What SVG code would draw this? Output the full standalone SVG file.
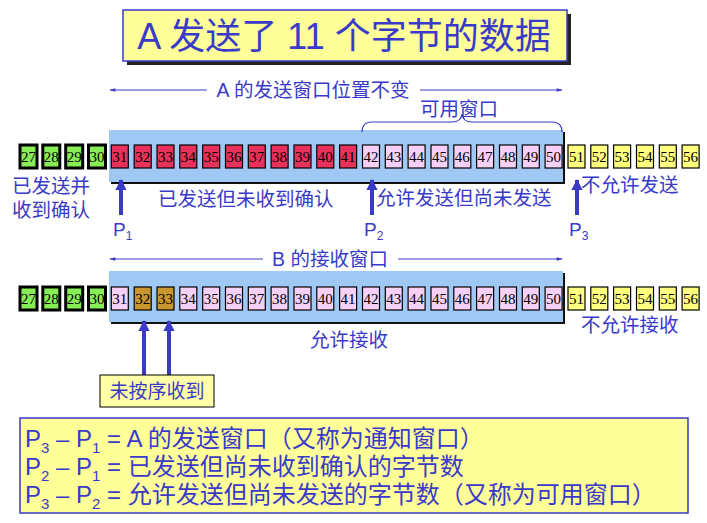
<svg xmlns="http://www.w3.org/2000/svg" width="707" height="523" viewBox="0 0 707 523">
<style>
.t{font-family:"Liberation Sans","Noto Sans CJK SC",sans-serif;fill:#3a3ac8}
.n{font-family:"Liberation Serif",serif;font-size:15px;fill:#000;text-anchor:middle}
.c rect{stroke:#000;stroke-width:1.2}
.g rect{fill:#88ee55;stroke-width:3}
.r rect{fill:#e8325c}
.p rect{fill:#f7d0f7}
.y rect{fill:#ffff80}
.b rect{fill:#c8962a}
.ln{stroke:#3a3ac8;stroke-width:1.2;fill:none}
.ar{stroke:#3a3ac8;stroke-width:4;fill:none}
</style>
<defs>
<marker id="sa" viewBox="0 0 10 10" refX="9" refY="5" markerWidth="7" markerHeight="5" orient="auto-start-reverse"><path d="M0,2 L10,5 L0,8 z" fill="#3a3ac8"/></marker>
<marker id="ba" viewBox="0 0 10 10" refX="9" refY="5" markerWidth="3.5" markerHeight="2.8" orient="auto"><path d="M0,0 L10,5 L0,10 z" fill="#3a3ac8"/></marker>
</defs>
<rect width="707" height="523" fill="#fff"/>
<g id="title">
<rect x="127" y="14" width="444" height="51" fill="#222"/>
<rect x="123" y="10" width="444" height="51" fill="#ffff99" stroke="#3a3ac8" stroke-width="1.5"/>
<text class="t" x="344" y="49" font-size="36" text-anchor="middle">A 发送了 11 个字节的数据</text>
</g>
<g id="windowA">
<rect x="111" y="132" width="454" height="52" fill="#111"/>
<rect x="109" y="130" width="454" height="52" fill="#a0c8f4"/>
</g>
<g id="windowB">
<rect x="111" y="273" width="454" height="51" fill="#111"/>
<rect x="109" y="271" width="454" height="51" fill="#a0c8f4"/>
</g>
<g id="connectors">
<line class="ln" x1="110" y1="90" x2="207" y2="90" marker-start="url(#sa)"/>
<line class="ln" x1="420" y1="90" x2="562" y2="90" marker-end="url(#sa)"/>
<line class="ln" x1="110" y1="259" x2="263" y2="259" marker-start="url(#sa)"/>
<line class="ln" x1="398" y1="259" x2="562" y2="259" marker-end="url(#sa)"/>
<path class="ln" d="M362,132 Q362,122 372,122 L452,122 Q461,122 462,114 Q463,122 472,122 L552,122 Q562,122 562,132"/>
<line class="ar" x1="121" y1="215" x2="121" y2="180" marker-end="url(#ba)"/>
<line class="ar" x1="372" y1="215" x2="372" y2="180" marker-end="url(#ba)"/>
<line class="ar" x1="577" y1="215" x2="577" y2="180" marker-end="url(#ba)"/>
<line class="ar" x1="144" y1="375" x2="144" y2="321" marker-end="url(#ba)"/>
<line class="ar" x1="169" y1="375" x2="169" y2="321" marker-end="url(#ba)"/>
</g>
<g id="rowA" class="c">
<g class="g" transform="translate(20,145)"><rect width="17" height="23"/><text class="n" x="8.5" y="17">27</text></g>
<g class="g" transform="translate(42.8,145)"><rect width="17" height="23"/><text class="n" x="8.5" y="17">28</text></g>
<g class="g" transform="translate(65.7,145)"><rect width="17" height="23"/><text class="n" x="8.5" y="17">29</text></g>
<g class="g" transform="translate(88.5,145)"><rect width="17" height="23"/><text class="n" x="8.5" y="17">30</text></g>
<g class="r" transform="translate(111.3,145)"><rect width="17" height="23"/><text class="n" x="8.5" y="17">31</text></g>
<g class="r" transform="translate(134.2,145)"><rect width="17" height="23"/><text class="n" x="8.5" y="17">32</text></g>
<g class="r" transform="translate(157,145)"><rect width="17" height="23"/><text class="n" x="8.5" y="17">33</text></g>
<g class="r" transform="translate(179.8,145)"><rect width="17" height="23"/><text class="n" x="8.5" y="17">34</text></g>
<g class="r" transform="translate(202.7,145)"><rect width="17" height="23"/><text class="n" x="8.5" y="17">35</text></g>
<g class="r" transform="translate(225.5,145)"><rect width="17" height="23"/><text class="n" x="8.5" y="17">36</text></g>
<g class="r" transform="translate(248.3,145)"><rect width="17" height="23"/><text class="n" x="8.5" y="17">37</text></g>
<g class="r" transform="translate(271.1,145)"><rect width="17" height="23"/><text class="n" x="8.5" y="17">38</text></g>
<g class="r" transform="translate(294,145)"><rect width="17" height="23"/><text class="n" x="8.5" y="17">39</text></g>
<g class="r" transform="translate(316.8,145)"><rect width="17" height="23"/><text class="n" x="8.5" y="17">40</text></g>
<g class="r" transform="translate(339.6,145)"><rect width="17" height="23"/><text class="n" x="8.5" y="17">41</text></g>
<g class="p" transform="translate(362.5,145)"><rect width="17" height="23"/><text class="n" x="8.5" y="17">42</text></g>
<g class="p" transform="translate(385.3,145)"><rect width="17" height="23"/><text class="n" x="8.5" y="17">43</text></g>
<g class="p" transform="translate(408.1,145)"><rect width="17" height="23"/><text class="n" x="8.5" y="17">44</text></g>
<g class="p" transform="translate(431,145)"><rect width="17" height="23"/><text class="n" x="8.5" y="17">45</text></g>
<g class="p" transform="translate(453.8,145)"><rect width="17" height="23"/><text class="n" x="8.5" y="17">46</text></g>
<g class="p" transform="translate(476.6,145)"><rect width="17" height="23"/><text class="n" x="8.5" y="17">47</text></g>
<g class="p" transform="translate(499.5,145)"><rect width="17" height="23"/><text class="n" x="8.5" y="17">48</text></g>
<g class="p" transform="translate(522.3,145)"><rect width="17" height="23"/><text class="n" x="8.5" y="17">49</text></g>
<g class="p" transform="translate(545.1,145)"><rect width="17" height="23"/><text class="n" x="8.5" y="17">50</text></g>
<g class="y" transform="translate(568,145)"><rect width="17" height="23"/><text class="n" x="8.5" y="17">51</text></g>
<g class="y" transform="translate(590.8,145)"><rect width="17" height="23"/><text class="n" x="8.5" y="17">52</text></g>
<g class="y" transform="translate(613.6,145)"><rect width="17" height="23"/><text class="n" x="8.5" y="17">53</text></g>
<g class="y" transform="translate(636.5,145)"><rect width="17" height="23"/><text class="n" x="8.5" y="17">54</text></g>
<g class="y" transform="translate(659.3,145)"><rect width="17" height="23"/><text class="n" x="8.5" y="17">55</text></g>
<g class="y" transform="translate(682.1,145)"><rect width="17" height="23"/><text class="n" x="8.5" y="17">56</text></g>
</g>
<g id="rowB" class="c">
<g class="g" transform="translate(20,287)"><rect width="17" height="23"/><text class="n" x="8.5" y="17">27</text></g>
<g class="g" transform="translate(42.8,287)"><rect width="17" height="23"/><text class="n" x="8.5" y="17">28</text></g>
<g class="g" transform="translate(65.7,287)"><rect width="17" height="23"/><text class="n" x="8.5" y="17">29</text></g>
<g class="g" transform="translate(88.5,287)"><rect width="17" height="23"/><text class="n" x="8.5" y="17">30</text></g>
<g class="p" transform="translate(111.3,287)"><rect width="17" height="23"/><text class="n" x="8.5" y="17">31</text></g>
<g class="b" transform="translate(134.2,287)"><rect width="17" height="23"/><text class="n" x="8.5" y="17">32</text></g>
<g class="b" transform="translate(157,287)"><rect width="17" height="23"/><text class="n" x="8.5" y="17">33</text></g>
<g class="p" transform="translate(179.8,287)"><rect width="17" height="23"/><text class="n" x="8.5" y="17">34</text></g>
<g class="p" transform="translate(202.7,287)"><rect width="17" height="23"/><text class="n" x="8.5" y="17">35</text></g>
<g class="p" transform="translate(225.5,287)"><rect width="17" height="23"/><text class="n" x="8.5" y="17">36</text></g>
<g class="p" transform="translate(248.3,287)"><rect width="17" height="23"/><text class="n" x="8.5" y="17">37</text></g>
<g class="p" transform="translate(271.1,287)"><rect width="17" height="23"/><text class="n" x="8.5" y="17">38</text></g>
<g class="p" transform="translate(294,287)"><rect width="17" height="23"/><text class="n" x="8.5" y="17">39</text></g>
<g class="p" transform="translate(316.8,287)"><rect width="17" height="23"/><text class="n" x="8.5" y="17">40</text></g>
<g class="p" transform="translate(339.6,287)"><rect width="17" height="23"/><text class="n" x="8.5" y="17">41</text></g>
<g class="p" transform="translate(362.5,287)"><rect width="17" height="23"/><text class="n" x="8.5" y="17">42</text></g>
<g class="p" transform="translate(385.3,287)"><rect width="17" height="23"/><text class="n" x="8.5" y="17">43</text></g>
<g class="p" transform="translate(408.1,287)"><rect width="17" height="23"/><text class="n" x="8.5" y="17">44</text></g>
<g class="p" transform="translate(431,287)"><rect width="17" height="23"/><text class="n" x="8.5" y="17">45</text></g>
<g class="p" transform="translate(453.8,287)"><rect width="17" height="23"/><text class="n" x="8.5" y="17">46</text></g>
<g class="p" transform="translate(476.6,287)"><rect width="17" height="23"/><text class="n" x="8.5" y="17">47</text></g>
<g class="p" transform="translate(499.5,287)"><rect width="17" height="23"/><text class="n" x="8.5" y="17">48</text></g>
<g class="p" transform="translate(522.3,287)"><rect width="17" height="23"/><text class="n" x="8.5" y="17">49</text></g>
<g class="p" transform="translate(545.1,287)"><rect width="17" height="23"/><text class="n" x="8.5" y="17">50</text></g>
<g class="y" transform="translate(568,287)"><rect width="17" height="23"/><text class="n" x="8.5" y="17">51</text></g>
<g class="y" transform="translate(590.8,287)"><rect width="17" height="23"/><text class="n" x="8.5" y="17">52</text></g>
<g class="y" transform="translate(613.6,287)"><rect width="17" height="23"/><text class="n" x="8.5" y="17">53</text></g>
<g class="y" transform="translate(636.5,287)"><rect width="17" height="23"/><text class="n" x="8.5" y="17">54</text></g>
<g class="y" transform="translate(659.3,287)"><rect width="17" height="23"/><text class="n" x="8.5" y="17">55</text></g>
<g class="y" transform="translate(682.1,287)"><rect width="17" height="23"/><text class="n" x="8.5" y="17">56</text></g>
</g>
<g id="labels" class="t" font-size="19.5">
<text x="313" y="97" text-anchor="middle">A 的发送窗口位置不变</text>
<text x="459" y="116" text-anchor="middle">可用窗口</text>
<text x="12" y="193">已发送并</text>
<text x="12" y="217">收到确认</text>
<text x="158" y="206">已发送但未收到确认</text>
<text x="376" y="205">允许发送但尚未发送</text>
<text x="581" y="192">不允许发送</text>
<text x="113" y="236" font-size="19">P<tspan font-size="12" dy="4">1</tspan></text>
<text x="364" y="236" font-size="19">P<tspan font-size="12" dy="4">2</tspan></text>
<text x="569" y="236" font-size="19">P<tspan font-size="12" dy="4">3</tspan></text>
<text x="330" y="266" text-anchor="middle">B 的接收窗口</text>
<text x="349" y="347" text-anchor="middle">允许接收</text>
<text x="581" y="332">不允许接收</text>
</g>
<g id="note">
<rect x="100" y="375" width="114" height="32" fill="#ffffa8" stroke="#000" stroke-width="1"/>
<text class="t" x="157" y="398" font-size="19" text-anchor="middle">未按序收到</text>
</g>
<g id="legend">
<rect x="20" y="418" width="668" height="95" fill="#ffff99" stroke="#3a3ac8" stroke-width="1.5"/>
<g class="t" font-size="24">
<text x="25" y="447">P<tspan font-size="15" dy="6">3</tspan><tspan dy="-6"> – P</tspan><tspan font-size="15" dy="6">1</tspan><tspan dy="-6"> = A 的发送窗口（又称为通知窗口）</tspan></text>
<text x="25" y="475">P<tspan font-size="15" dy="6">2</tspan><tspan dy="-6"> – P</tspan><tspan font-size="15" dy="6">1</tspan><tspan dy="-6"> = 已发送但尚未收到确认的字节数</tspan></text>
<text x="25" y="503">P<tspan font-size="15" dy="6">3</tspan><tspan dy="-6"> – P</tspan><tspan font-size="15" dy="6">2</tspan><tspan dy="-6"> = 允许发送但尚未发送的字节数（又称为可用窗口）</tspan></text>
</g>
</g>
</svg>
